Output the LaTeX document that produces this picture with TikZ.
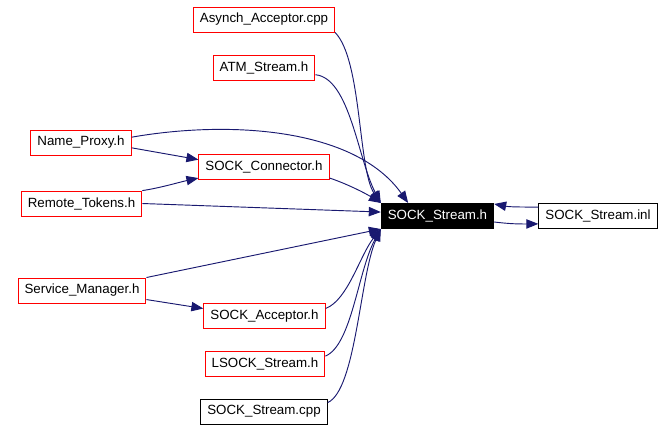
\documentclass[tikz,border=0pt]{standalone}
\usepackage{fontspec}
\setmainfont{Liberation Sans}
\usetikzlibrary{arrows.meta}
\definecolor{midnight}{RGB}{25,25,112}
\begin{document}
\begin{tikzpicture}[x=0.75pt, y=-0.75pt,
    file/.style = {draw, line width=0.75pt, inner xsep=4.9pt, minimum height=18.75pt, font=\fontsize{10pt}{12pt}\selectfont},
    redfile/.style = {file, draw=red},
    focus/.style = {file, fill=black, text=white},
    dep/.style = {draw=midnight, line width=0.7pt, -{Triangle[length=9pt, width=7pt]}}]
    \useasboundingbox (0, 0) rectangle (672, 430);

    \node[redfile] (asynch) at (264, 19.5) {Asynch\_Acceptor.cpp};
    \node[redfile] (atm) at (264, 67.5) {ATM\_Stream.h};
    \node[redfile] (name) at (81, 142.5) {Name\_Proxy.h};
    \node[redfile] (connector) at (264, 166.5) {SOCK\_Connector.h};
    \node[redfile] (remote) at (81.5, 203.5) {Remote\_Tokens.h};

    \node[focus] (stream) at (437.5, 216) {SOCK\_Stream.h};
    \node[file] (inl) at (598, 215.5) {SOCK\_Stream.inl};

    \node[redfile] (service) at (82, 290.5) {Service\_Manager.h};
    \node[redfile] (acceptor) at (264.5, 316) {SOCK\_Acceptor.h};
    \node[redfile] (lsock) at (265, 363.5) {LSOCK\_Stream.h};
    \node[file] (cpp) at (264, 411.5) {SOCK\_Stream.cpp};

    \draw[dep] (asynch.south east) .. controls (362, 60) and (358, 170) .. (stream.north west);
    \draw[dep] (atm.-8) .. controls (350, 78) and (358, 160) .. (stream.north west);
    \draw[dep] (name.6) .. controls (230, 120) and (355, 128) .. ([xshift=-22]stream.north);
    \draw[dep] (name.-6) -- (connector.174);
    \draw[dep] (remote.12) .. controls (160, 188) and (180, 182) .. (connector.190);
    \draw[dep] (remote.east) -- (stream.176);
    \draw[dep] (connector.-10) .. controls (345, 183) and (365, 193) .. (stream.north west);
    \draw[dep] (service.north east) -- (stream.south west);
    \draw[dep] (service.-8) -- (acceptor.173);
    \draw[dep] (acceptor.7) .. controls (348, 300) and (360, 255) .. (stream.south west);
    \draw[dep] (lsock.7) .. controls (352, 345) and (358, 270) .. (stream.south west);
    \draw[dep] (cpp.8) .. controls (356, 390) and (360, 275) .. (stream.south west);

    \draw[dep] (stream.-6) .. controls (510, 224) and (520, 224) .. (inl.188);
    \draw[dep] (inl.172) .. controls (520, 207) and (510, 207) .. (stream.12);

\end{tikzpicture}
\end{document}
